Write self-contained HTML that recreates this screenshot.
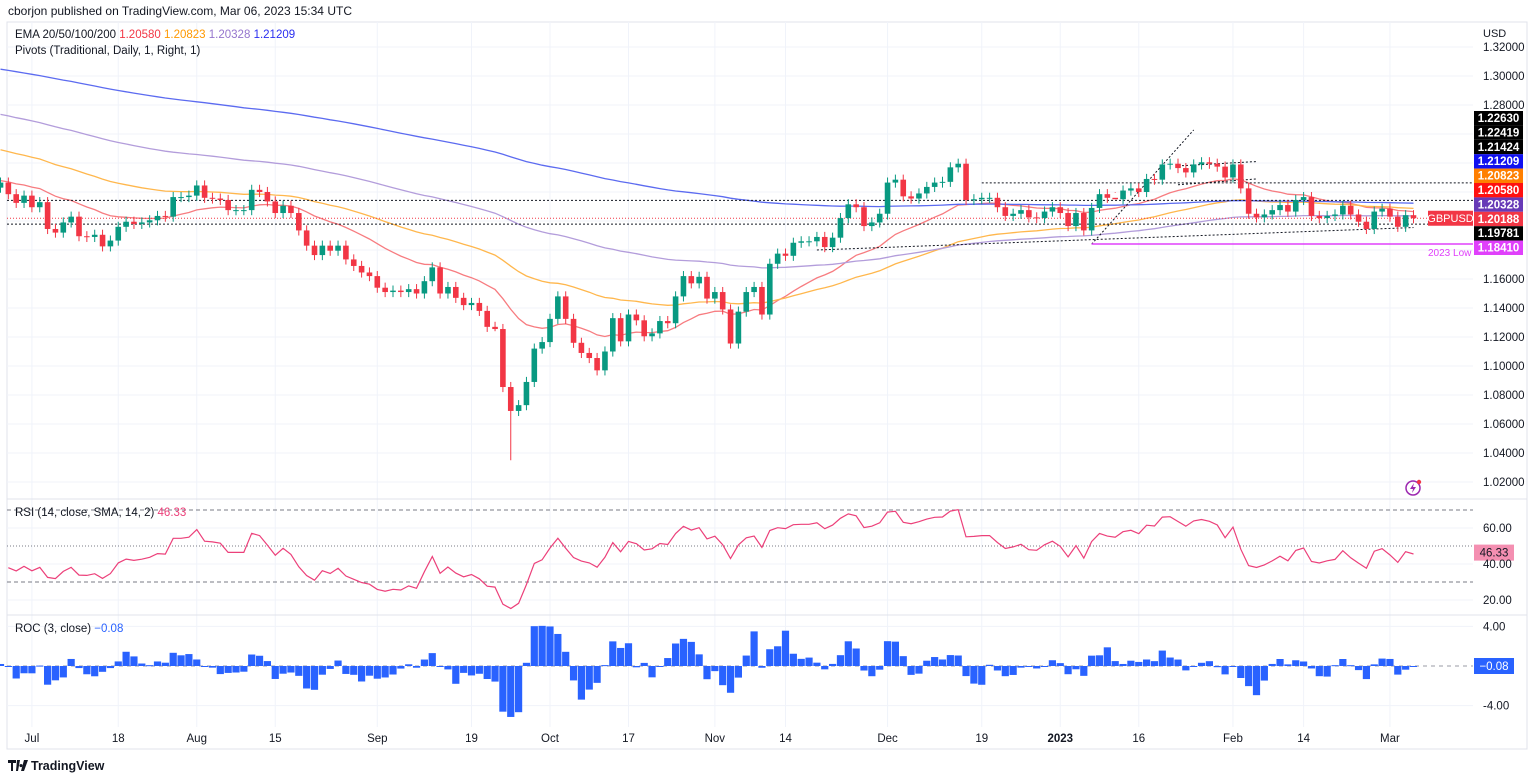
<!DOCTYPE html>
<html><head><meta charset="utf-8"><style>
html,body{margin:0;padding:0;background:#fff;}
svg{display:block;font-family:"Liberation Sans",sans-serif;}
</style></head><body>
<svg id="c" width="1536" height="779" viewBox="0 0 1536 779" xmlns="http://www.w3.org/2000/svg">
<text x="8" y="15" font-size="12" fill="#131722">cborjon published on TradingView.com, Mar 06, 2023 15:34 UTC</text>
<rect x="7" y="22" width="1520" height="727" fill="none" stroke="#e0e3eb"/>
<g id="grid"></g>
<g id="lines"></g>
<g id="candles"></g>
<g id="overlay"></g>
<g id="axis"></g>
<text x="15" y="38" font-size="11.5" fill="#131722">EMA 20/50/100/200 <tspan fill="#f23645">1.20580</tspan> <tspan fill="#ff9800">1.20823</tspan> <tspan fill="#9575cd">1.20328</tspan> <tspan fill="#2a2ef0">1.21209</tspan></text>
<text x="15" y="54" font-size="11.5" fill="#131722">Pivots (Traditional, Daily, 1, Right, 1)</text>
<text x="15" y="516" font-size="11.5" fill="#131722">RSI (14, close, SMA, 14, 2) <tspan fill="#ec407a">46.33</tspan></text>
<text x="15" y="632" font-size="11.5" fill="#131722">ROC (3, close) <tspan fill="#2962ff">−0.08</tspan></text>
<g>
<path d="M8 760h8v3h-3v8h-2v-8h-3z M17 760h3l-2 11h-2z M21 764a1.6 1.6 0 1 0 0.01 0z M24 760h4l-4 11h-3z" fill="#131722"/>
<text x="31" y="770" font-size="12.5" font-weight="bold" fill="#131722">TradingView</text>
</g>
</svg>
<script>
const closes=[
1.2265,1.2185,1.2125,1.2175,1.2095,
1.2130,1.1945,1.1920,1.1990,1.2030,
1.1895,1.1890,1.1905,1.1825,1.1865,
1.1960,1.1995,1.1980,1.1990,1.2005,
1.2035,1.2030,1.2165,1.2165,1.2175,
1.2245,1.2160,1.2155,1.2145,1.2075,
1.2075,1.2075,1.2215,1.2200,1.2135,
1.2055,1.2105,1.2055,1.1935,1.1830,
1.1765,1.1830,1.1795,1.1830,1.1735,
1.1690,1.1645,1.1620,1.1540,1.1510,
1.1520,1.1510,1.1530,1.1500,1.1585,
1.1680,1.1500,1.1545,1.1470,1.1420,
1.1435,1.1380,1.1270,1.1255,1.0855,
1.0690,1.0730,1.0890,1.1120,1.1165,
1.1325,1.1480,1.1325,1.1160,1.1090,
1.1055,1.0970,1.1100,1.1330,1.1170,
1.1355,1.1315,1.1205,1.1225,1.1310,
1.1295,1.1480,1.1620,1.1570,1.1615,
1.1465,1.1510,1.1390,1.1155,1.1375,
1.1510,1.1545,1.1355,1.1705,1.1775,
1.1760,1.1850,1.1860,1.1860,1.1890,
1.1820,1.1885,1.2020,1.2115,1.2095,
1.1965,1.1990,1.2050,1.2265,1.2285,
1.2170,1.2155,1.2190,1.2235,1.2265,
1.2270,1.2370,1.2395,1.2145,1.2150,
1.2160,1.2160,1.2095,1.2035,1.2050,
1.2075,1.2025,1.2020,1.2065,1.2095,
1.2055,1.1965,1.2055,1.1935,1.2090,
1.2185,1.2160,1.2150,1.2210,1.2225,
1.2200,1.2290,1.2285,1.2390,1.2395,
1.2365,1.2335,1.2390,1.2405,1.2395,
1.2375,1.2300,1.2390,1.2225,1.2050,
1.2025,1.2045,1.2075,1.2110,1.2065,
1.2145,1.2165,1.2035,1.2020,1.2035,
1.2045,1.2105,1.2045,1.1995,1.1945,
1.2065,1.2085,1.2030,1.1960,1.2040,
1.2019];
const priorCloses=[1.2240,1.2195,1.2280];
const firstOpen=1.2230;
const wickExtra=0.0035;
const lowOverrides={65:1.0350,63:1.1240,113:1.2010,142:1.2200};
const emaPeriods=[20,50,100,200];
const emaSeeds=[1.2280,1.2500,1.2745,1.3055];
const emaColors=['#f77c80','#ffb74d','#b39ddb','#5c6bf0'];
const rsiSeedGain=0.0038;
const rsiSeedLoss=0.0056;
const tickIndex=[4,15,25,35,48,60,70,80,91,100,113,125,135,145,157,166,177];
const tickLabels=['Jul','18','Aug','15','Sep','19','Oct','17','Nov','14','Dec','19','2023','16','Feb','14','Mar'];
const priceTicks=[1.32,1.30,1.28,1.26,1.24,1.22,1.20,1.18,1.16,1.14,1.12,1.10,1.08,1.06,1.04,1.02];
const priceTickShown=[1,1,1,0,0,0,0,0,1,1,1,1,1,1,1,1];
const rsiTicks=[60,40,20];
const rocTicks=[4,-4];
const pivotLevels=[1.2263,1.21424,1.19781];
const pivotStartIdx=[125,0,0];
const yearLow=1.1841;
const yearLowIdx=139;
const sideLabels=[['1.22630','#000'],['1.22419','#000'],['1.21424','#000'],['1.21209','#1010f0'],['1.20823','#ff7f00'],['1.20580','#ff1010'],['1.20328','#673ab7'],['1.20188','#f23645'],['1.19781','#000'],['1.18410','#e040fb']];

const NS='http://www.w3.org/2000/svg';
function mk(tag,attrs,parent){const e=document.createElementNS(NS,tag);for(const k in attrs)e.setAttribute(k,attrs[k]);parent.appendChild(e);return e;}
const X0=0.5,DX=7.85,PR=1473;
const xs=i=>X0+i*DX;
const yP=p=>47+(1.32-p)*1450;
const yR=v=>528+(60-v)*1.8;
const yC=v=>666-v*9.9;
const grid=document.getElementById('grid'),lines=document.getElementById('lines'),cg=document.getElementById('candles'),ov=document.getElementById('overlay'),ax=document.getElementById('axis');

priceTicks.forEach((p,k)=>{const l=mk('line',{x1:7,x2:PR,y1:yP(p),y2:yP(p),stroke:'#f0f3fa'},grid);


if(priceTickShown[k]){const t=mk('text',{x:1483,y:yP(p)+4,'font-size':11.5,fill:'#131722'},ax);t.textContent=p.toFixed(5);

}});
const u=mk('text',{x:1483,y:37,'font-size':11,fill:'#131722'},ax);u.textContent='USD';


tickIndex.forEach((ti,k)=>{const x=xs(ti);const l=mk('line',{x1:x,x2:x,y1:22,y2:727,stroke:'#f0f3fa'},grid);


const t=mk('text',{x:x,y:742,'font-size':11.5,fill:'#131722','text-anchor':'middle','font-weight':tickLabels[k]==='2023'?'bold':'normal'},ax);t.textContent=tickLabels[k];

});
[499,615].forEach(y=>{const l=mk('line',{x1:7,x2:1527,y1:y,y2:y,stroke:'#e0e3eb'},grid);

});
rsiTicks.forEach(v=>{const t=mk('text',{x:1483,y:yR(v)+4,'font-size':11.5,fill:'#131722'},ax);t.textContent=v.toFixed(2);


mk('line',{x1:7,x2:PR,y1:yR(v),y2:yR(v),stroke:'#f0f3fa'},grid);});
rocTicks.forEach(v=>{const t=mk('text',{x:1483,y:yC(v)+4,'font-size':11.5,fill:'#131722'},ax);t.textContent=(v>0?'':'-')+Math.abs(v).toFixed(2);


mk('line',{x1:7,x2:PR,y1:yC(v),y2:yC(v),stroke:'#f0f3fa'},grid);});

emaPeriods.forEach((n,k)=>{let e=emaSeeds[k];const kk=2/(n+1);const pts=[];
closes.forEach((c,i)=>{e=c*kk+e*(1-kk);pts.push(xs(i).toFixed(1)+','+yP(e).toFixed(1));});
const pl=mk('polyline',{points:pts.join(' '),fill:'none',stroke:emaColors[k],'stroke-width':1.3},lines);

});

pivotLevels.forEach((p,k)=>{const l=mk('line',{x1:Math.max(7,xs(pivotStartIdx[k])),x2:PR,y1:yP(p),y2:yP(p),stroke:'#131722','stroke-dasharray':'2,2','stroke-width':1},lines);

});
const tl=[[104,1.1800,180,1.1955],[139,1.1840,152,1.2628],[150,1.2380,160,1.2410],[150,1.2250,160,1.2290]];
tl.forEach(s=>{const l=mk('line',{x1:xs(s[0]),y1:yP(s[1]),x2:xs(s[2]),y2:yP(s[3]),stroke:'#131722','stroke-dasharray':'2,2'},lines);

});
const lowL=mk('line',{x1:xs(yearLowIdx),x2:PR,y1:yP(yearLow),y2:yP(yearLow),stroke:'#e040fb','stroke-width':1.5},lines);


const lowT=mk('text',{x:1428,y:yP(yearLow)+12,'font-size':10,fill:'#e040fb'},ov);lowT.textContent='2023 Low';


const last=closes[closes.length-1];
const cpl=mk('line',{x1:7,x2:PR,y1:yP(last),y2:yP(last),stroke:'#f23645','stroke-dasharray':'1,2'},lines);



closes.forEach((c,i)=>{const o=i?closes[i-1]:firstOpen;const hi=Math.max(o,c)+wickExtra;const lo=(lowOverrides[i]!==undefined)?lowOverrides[i]:Math.min(o,c)-wickExtra;
const col=c>=o?'#089981':'#f23645';const x=xs(i);
const g=mk('g',{},cg);


mk('line',{x1:x,x2:x,y1:yP(hi),y2:yP(lo),stroke:col},g);
const top=yP(Math.max(o,c)),h=Math.max(1,yP(Math.min(o,c))-top);
mk('rect',{x:x-2.8,y:top,width:5.6,height:h,fill:col},g);});

const rsi=[];let ag=rsiSeedGain,al=rsiSeedLoss;
for(let i=1;i<closes.length;i++){const d=closes[i]-closes[i-1];const g=Math.max(d,0),l=Math.max(-d,0);
ag=(ag*13+g)/14;al=(al*13+l)/14;
rsi[i]=al===0?100:100-100/(1+ag/al);}
const rp=[];rsi.forEach((v,i)=>{if(v!=null)rp.push(xs(i).toFixed(1)+','+yR(v).toFixed(1));});
[[70,'4,3'],[50,'1,2'],[30,'4,3']].forEach(b=>{const l=mk('line',{x1:7,x2:PR,y1:yR(b[0]),y2:yR(b[0]),stroke:'#787b86','stroke-dasharray':b[1]},lines);

});
const rl=mk('polyline',{points:rp.join(' '),fill:'none',stroke:'#ec407a','stroke-width':1.2},lines);



const zl=mk('line',{x1:7,x2:PR,y1:yC(0),y2:yC(0),stroke:'#787b86','stroke-dasharray':'4,4','stroke-width':0.8},lines);


const allC=priorCloses.concat(closes);
closes.forEach((c,i)=>{const prev=allC[i];const v=(c-prev)/prev*100;const y0=yC(0),y1=yC(v);
const r=mk('rect',{x:xs(i)-3.6,y:Math.min(y0,y1),width:7.2,height:Math.max(1,Math.abs(y1-y0)),fill:'#2962ff'},cg);

});

sideLabels.forEach((s,k)=>{const y=111+k*14.4;const g=mk('g',{},ov);


mk('rect',{x:1474,y:y,width:49,height:14.4,fill:s[1]},g);
const t=mk('text',{x:1498.5,y:y+11,'font-size':11.5,'font-weight':'bold',fill:'#fff','text-anchor':'middle'},g);t.textContent=s[0];});
const sg=mk('g',{},ov);


mk('rect',{x:1428,y:yP(last)-7.5,width:45,height:15,fill:'#f23645'},sg);
const st=mk('text',{x:1450.5,y:yP(last)+4,'font-size':11,fill:'#fff','text-anchor':'middle'},sg);st.textContent='GBPUSD';
const rg=mk('g',{},ov);


mk('rect',{x:1474,y:yR(46.33)-8,width:40,height:16,fill:'#f48fb1'},rg);
const rt=mk('text',{x:1494,y:yR(46.33)+4,'font-size':11.5,fill:'#131722','text-anchor':'middle'},rg);rt.textContent='46.33';
const cg2=mk('g',{},ov);


mk('rect',{x:1474,y:yC(0)-8,width:40,height:16,fill:'#2962ff'},cg2);
const ct=mk('text',{x:1494,y:yC(0)+4,'font-size':11.5,fill:'#fff','text-anchor':'middle'},cg2);ct.textContent='−0.08';
const ic=mk('g',{},ov);


mk('circle',{cx:1413,cy:488,r:7,fill:'none',stroke:'#9c27b0','stroke-width':1.5},ic);
mk('path',{d:'M1414 483l-4 6h3l-1 4 4-6h-3z',fill:'#9c27b0'},ic);
mk('circle',{cx:1419,cy:482,r:2.2,fill:'#f23645'},ic);
</script>
</body></html>
